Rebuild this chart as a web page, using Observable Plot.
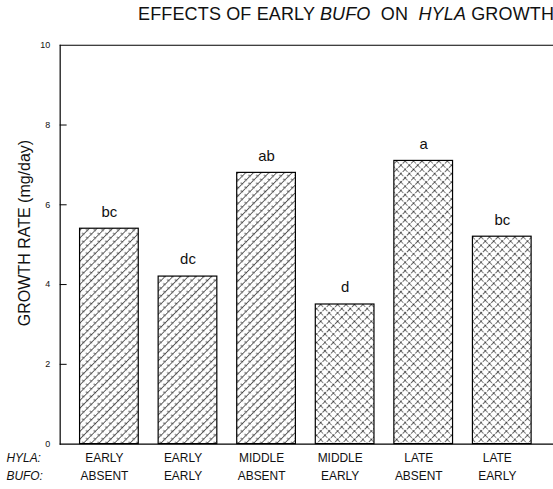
<!DOCTYPE html>
<html>
<head>
<meta charset="utf-8">
<script src="https://cdn.jsdelivr.net/npm/d3@7"></script>
<script src="https://cdn.jsdelivr.net/npm/@observablehq/plot@0.6"></script>
<style>
  html, body { margin: 0; padding: 0; background: #fff; }
  #wrap { position: relative; width: 553px; height: 489px; overflow: hidden; font-family: "Liberation Sans", Arial, sans-serif; }
  #title { position: absolute; left: 138px; top: 4px; font-size: 18px; color: #111; white-space: pre; letter-spacing: 0.15px; }
  #ylab { position: absolute; left: 25px; top: 233px; transform: translate(-50%, -50%) rotate(-90deg); font-size: 16px; white-space: nowrap; color: #111; }
  svg.defs { position: absolute; width: 0; height: 0; }
  #chart { position: absolute; left: 0; top: 0; width: 553px; height: 489px; overflow: hidden; }
</style>
</head>
<body>
<div id="wrap">
  <svg class="defs" aria-hidden="true">
    <defs>
      <pattern id="texA" width="5.5" height="5.5" patternUnits="userSpaceOnUse" patternTransform="rotate(45)">
        <rect width="5.5" height="5.5" fill="#fff"/>
        <line x1="0" y1="0" x2="0" y2="5.5" stroke="#000" stroke-width="1.2" stroke-dasharray="2.5 1.2"/>
        <line x1="0" y1="2.75" x2="5.5" y2="2.75" stroke="#000" stroke-width="1" stroke-dasharray="1.2 3"/>
      </pattern>
      <pattern id="texB" width="6" height="6" patternUnits="userSpaceOnUse" patternTransform="rotate(45)">
        <rect width="6" height="6" fill="#fff"/>
        <line x1="0" y1="0" x2="0" y2="6" stroke="#000" stroke-width="1.2" stroke-dasharray="4 1"/>
        <line x1="0" y1="0" x2="6" y2="0" stroke="#000" stroke-width="1.2" stroke-dasharray="4 1"/>
      </pattern>
    </defs>
  </svg>
  <div id="chart"></div>
  <div id="title">EFFECTS OF EARLY <i>BUFO</i>  ON  <i>HYLA</i> GROWTH</div>
  <div id="ylab">GROWTH RATE (mg/day)</div>
</div>
<script>
const hyla = ["EARLY", "EARLY", "MIDDLE", "MIDDLE", "LATE", "LATE"];
const bufo = ["ABSENT", "EARLY", "ABSENT", "EARLY", "ABSENT", "EARLY"];
const growth = [5.4, 4.2, 6.8, 3.5, 7.1, 5.2];
const letters = ["bc", "dc", "ab", "d", "a", "bc"];
const yTicks = [0, 2, 4, 6, 8, 10];

const cats = hyla.map((h, i) => `${h}/${bufo[i]}`);
const data = cats.map((c, i) => ({cat: c, hyla: hyla[i], bufo: bufo[i], value: growth[i], letter: letters[i]}));

const chart = Plot.plot({
  width: 556,
  height: 489,
  marginTop: 45,
  marginBottom: 43,
  marginLeft: 60,
  marginRight: 0,
  style: {fontFamily: "'Liberation Sans', Arial, sans-serif", color: "#111", background: "transparent"},
  x: {domain: cats, paddingInner: 0.25, paddingOuter: 0.264, align: 0.48, axis: null},
  y: {domain: [0, 10], axis: null},
  color: {type: "identity"},
  marks: [
    Plot.barY(data, {x: "cat", y: "value", fill: (d, i) => i < 3 ? "url(#texA)" : "url(#texB)", stroke: "#000", strokeWidth: 1.2}),
    Plot.text(data, {x: "cat", y: "value", text: "letter", dy: -17, fontSize: 15}),
    Plot.ruleY([0, 10], {stroke: "#000", strokeWidth: 1.2}),
    Plot.frame({anchor: "left", stroke: "#000", strokeWidth: 1.2}),
    Plot.axisY({ticks: yTicks, tickSize: 0, tickPadding: 10, fontSize: 9, label: null}),
    Plot.axisY({ticks: yTicks.filter(t => t > 0 && t < 10), tickSize: 7, dx: 7, tickFormat: () => "", stroke: "#000", label: null}),
    Plot.text(data, {x: "cat", text: "hyla", frameAnchor: "bottom", dy: 18, dx: -5, fontSize: 12}),
    Plot.text(data, {x: "cat", text: "bufo", frameAnchor: "bottom", dy: 36, dx: -5, fontSize: 12}),
    Plot.text(["HYLA:"], {frameAnchor: "bottom-left", dx: -54, dy: 18, textAnchor: "start", fontSize: 12, fontStyle: "italic"}),
    Plot.text(["BUFO:"], {frameAnchor: "bottom-left", dx: -54, dy: 36, textAnchor: "start", fontSize: 12, fontStyle: "italic"})
  ]
});
document.getElementById("chart").appendChild(chart);
</script>
</body>
</html>
